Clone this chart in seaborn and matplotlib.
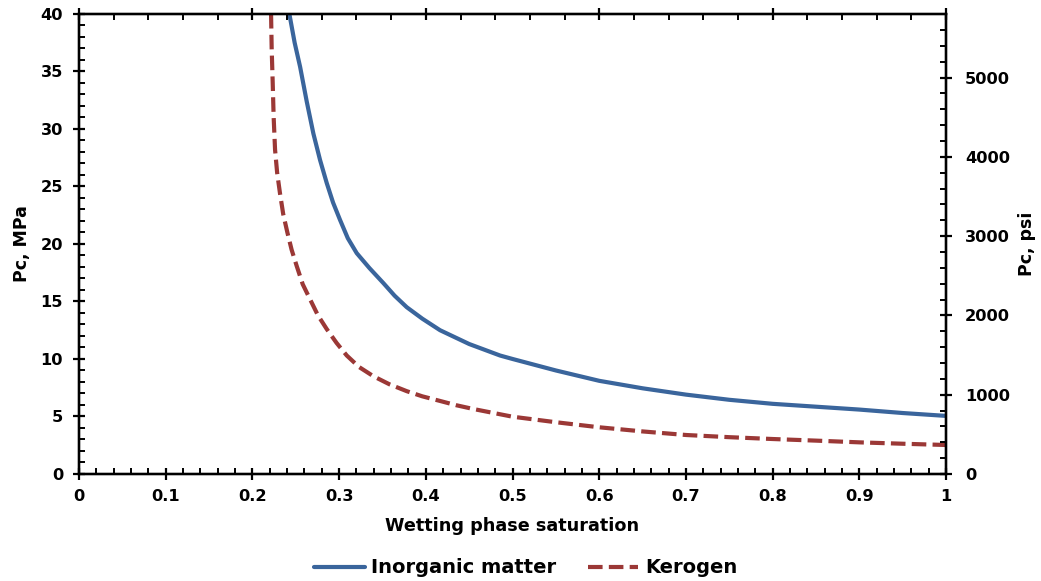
import numpy as np
import pandas as pd
import matplotlib
matplotlib.use('Agg')
import matplotlib.pyplot as plt
from matplotlib.ticker import MultipleLocator, FuncFormatter
import seaborn as sns

# Curves (Sw in fraction, Pc in MPa)
inorganic_sw = [0.2426, 0.2487, 0.255, 0.2626, 0.2703, 0.278, 0.2857, 0.293, 0.301,
                0.31, 0.3203, 0.335, 0.351, 0.364, 0.378, 0.396, 0.4164, 0.45,
                0.4856, 0.5, 0.55, 0.6, 0.65, 0.7, 0.75, 0.8, 0.85, 0.9, 0.95, 1.0]
inorganic_pc = [40.0, 37.5, 35.4, 32.4, 29.6, 27.3, 25.3, 23.6, 22.1,
                20.5, 19.2, 17.9, 16.6, 15.5, 14.5, 13.5, 12.5, 11.3,
                10.3, 10.0, 9.0, 8.1, 7.45, 6.9, 6.45, 6.1, 5.85, 5.6, 5.3, 5.05]

kerogen_sw = [0.2215, 0.2222, 0.2234, 0.2245, 0.2261, 0.2285, 0.2318, 0.2355, 0.2403,
              0.2452, 0.251, 0.258, 0.2664, 0.2755, 0.2857, 0.297, 0.3088, 0.323,
              0.3395, 0.358, 0.378, 0.396, 0.4164, 0.435, 0.4548, 0.475, 0.5, 0.55,
              0.6, 0.65, 0.7, 0.75, 0.8, 0.85, 0.9, 0.95, 1.0]
kerogen_pc = [40.0, 37.0, 34.0, 31.0, 28.2, 26.2, 24.4, 22.6, 21.0,
              19.5, 18.1, 16.5, 15.2, 13.8, 12.6, 11.4, 10.3, 9.3,
              8.5, 7.8, 7.2, 6.75, 6.35, 5.98, 5.65, 5.35, 4.98, 4.5,
              4.06, 3.7, 3.39, 3.2, 3.04, 2.9, 2.75, 2.63, 2.52]

labels = ['Inorganic matter', 'Kerogen']
colors = {'Inorganic matter': '#3A659C', 'Kerogen': '#9B3836'}
MPA_TO_PSI = 145.038

df = pd.concat([
    pd.DataFrame({'Sw': inorganic_sw, 'Pc': inorganic_pc, 'Material': labels[0]}),
    pd.DataFrame({'Sw': kerogen_sw, 'Pc': kerogen_pc, 'Material': labels[1]}),
], ignore_index=True)

sns.set_theme(style='ticks')
plt.rcParams['font.family'] = ['DejaVu Sans']
plt.rcParams['font.weight'] = 'bold'
plt.rcParams['axes.labelweight'] = 'bold'
plt.rcParams['text.color'] = 'black'
plt.rcParams['axes.labelcolor'] = 'black'
plt.rcParams['xtick.color'] = 'black'
plt.rcParams['ytick.color'] = 'black'

fig = plt.figure(figsize=(10.41, 5.81), dpi=100)
ax = fig.add_axes([0.0759, 0.1842, 0.8329, 0.7918])

sns.lineplot(data=df, x='Sw', y='Pc', hue='Material', style='Material',
             palette=colors, dashes={'Inorganic matter': '', 'Kerogen': (3.5, 1.5)},
             linewidth=3, sort=False, estimator=None, ax=ax)

handles, labs = ax.get_legend_handles_labels()
ax.get_legend().remove()

ax.set_xlim(0, 1)
ax.set_ylim(0, 40)
ax.xaxis.set_major_locator(MultipleLocator(0.1))
ax.xaxis.set_minor_locator(MultipleLocator(0.02))
ax.yaxis.set_major_locator(MultipleLocator(5))
ax.yaxis.set_minor_locator(MultipleLocator(1))
ax.xaxis.set_major_formatter(FuncFormatter(lambda v, p: f'{v:g}'))
ax.set_xlabel('Wetting phase saturation', fontsize=12.7, labelpad=10)
ax.set_ylabel('Pc, MPa', fontsize=12.5, labelpad=7)

for side in ['left', 'right', 'top', 'bottom']:
    ax.spines[side].set_linewidth(1.6)
    ax.spines[side].set_color('black')

ax.tick_params(which='major', direction='inout', length=9, width=1.6,
               labelsize=11.7)
ax.tick_params(axis='x', which='major', pad=6)
ax.tick_params(axis='y', which='major', pad=7)
ax.tick_params(which='minor', direction='in', length=4, width=1.4)
ax.tick_params(top=False, right=False, which='both')
for t in ax.get_xticklabels() + ax.get_yticklabels():
    t.set_fontweight('bold')

# Secondary axis in psi
ax2 = ax.twinx()
ax2.set_ylim(0, 40 * MPA_TO_PSI)
ax2.yaxis.set_major_locator(MultipleLocator(1000))
ax2.yaxis.set_minor_locator(MultipleLocator(200))
ax2.set_ylabel('Pc, psi', fontsize=12.5, labelpad=6)
ax2.tick_params(which='major', direction='inout', length=9, width=1.6,
                labelsize=11.7, pad=9)
ax2.tick_params(which='minor', direction='in', length=4, width=1.4)
for t in ax2.get_yticklabels():
    t.set_fontweight('bold')
for side in ['left', 'right', 'top', 'bottom']:
    ax2.spines[side].set_linewidth(1.6)
    ax2.spines[side].set_color('black')

# Top axis ticks without labels
ax3 = ax.twiny()
ax3.set_xlim(0, 1)
ax3.xaxis.set_major_locator(MultipleLocator(0.2))
ax3.xaxis.set_minor_locator(MultipleLocator(0.04))
ax3.tick_params(which='major', direction='inout', length=9, width=1.6, labeltop=False)
ax3.tick_params(which='minor', direction='in', length=4, width=1.4)
for side in ['left', 'right', 'top', 'bottom']:
    ax3.spines[side].set_linewidth(1.6)
    ax3.spines[side].set_color('black')

fig.legend(handles, labs, loc='lower center', bbox_to_anchor=(0.505, -0.024),
           ncol=2, frameon=False, fontsize=14, handlelength=2.6, columnspacing=1.6,
           handletextpad=0.35)

fig.savefig('out.png', dpi=100)
